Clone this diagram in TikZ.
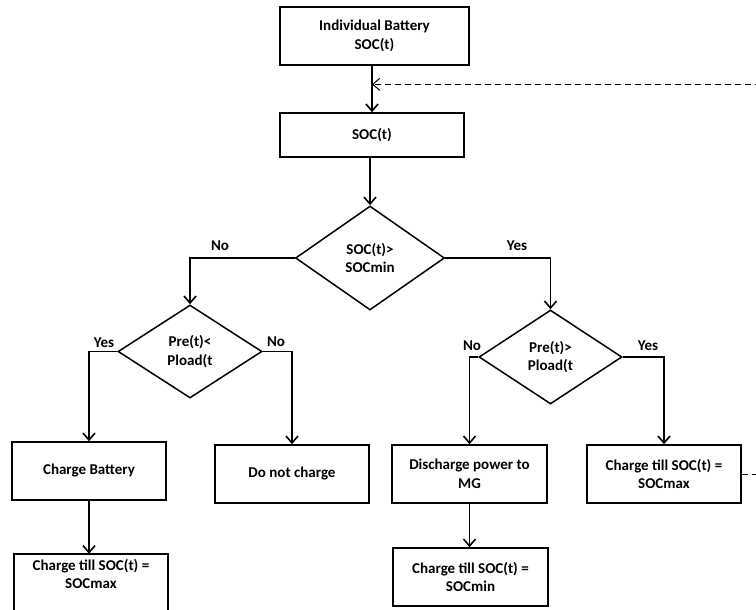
\documentclass[tikz,border=0pt]{standalone}
\usepackage{fontspec}
\setmainfont{Carlito}
\usetikzlibrary{arrows.meta,shapes.geometric,calc}
\begin{document}
\begin{tikzpicture}[x=1pt,y=-1pt,
  every node/.style={font=\bfseries\fontsize{15}{18.5}\selectfont},
  box/.style={draw,line width=1.5pt,align=center,inner sep=0pt,minimum width=154pt,minimum height=58pt},
  dia/.style={draw,diamond,line width=1.5pt,align=center,inner sep=0pt,shape aspect=1.5},
  lbl/.style={anchor=base,inner sep=0pt},
  arr/.style={line width=1.6pt,-{Straight Barb[length=7pt,width=12pt]}},
  dline/.style={line width=1pt,dash pattern=on 6pt off 4pt,-{Straight Barb[length=7pt,width=12pt]}}]
\useasboundingbox (0,0) rectangle (756,610);
\clip (0,0) rectangle (756,610);
\node[box,minimum width=189pt] (b1) at (374.5,36) {Individual Battery\\SOC(t)};
\node[box,minimum width=184pt,minimum height=44pt] (b2) at (372,135) {SOC(t)};
\node[dia,minimum width=149pt,minimum height=104pt] (d1) at (370,258) {SOC(t)>\\SOCmin};
\node[dia,minimum width=144pt,minimum height=93pt] (d2) at (190,351.5) {Pre(t)<\\Pload(t};
\node[dia,minimum width=143pt,minimum height=94pt] (d3) at (550.5,357) {Pre(t)>\\Pload(t};
\node[box] (r1) at (89,471) {Charge Battery};
\node[box] (r2) at (292,474) {Do not charge};
\node[box,minimum width=155pt] (r3) at (469.5,474) {Discharge power to\\MG};
\node[box] (r4) at (664,474) {Charge till SOC(t) =\\SOCmax};
\node[box,minimum width=155pt] (r5) at (470.5,577) {Charge till SOC(t) =\\SOCmin};
\node[align=center,inner sep=0pt,minimum width=154pt,minimum height=40pt] (c1) at (91,574) {Charge till SOC(t) =\\SOCmax};
\draw[line width=1.5pt] ($(c1.south west)+(0,30)$) -- (c1.north west) -- (c1.north east) -- ($(c1.south east)+(0,30)$);
% connectors
\draw[arr] (b2.north |- b1.south) -- (b2.north);
\coordinate (tap) at ($(b2.north |- b1.south)!0.4!(b2.north)$);
\draw[arr] (d1.north |- b2.south) -- (d1.north);
\draw[arr] (d1.west) -| (d2.north);
\draw[arr] (d1.east) -| (d3.north);
\draw[arr] (d2.west) -| (r1.north);
\draw[arr] (d2.east) -| (r2.north);
\draw[arr] (d3.west) -| (r3.north);
\draw[arr] (d3.east) -| (r4.north);
\draw[arr] (r1.south) -- (r1.south |- c1.north);
\draw[arr] (r3.south) -- (r3.south |- r5.north);
\draw[dline] (r4.east) -- ++(40,0) |- (tap);
% labels
\node[lbl] (l1) at (220,250) {No};
\node[lbl] (l2) at (517,250) {Yes};
\node[lbl] (l3) at (104,347) {Yes};
\node[lbl] (l4) at (276,346) {No};
\node[lbl] (l5) at (472,350) {No};
\node[lbl] (l6) at (648,350) {Yes};
\end{tikzpicture}
\end{document}
